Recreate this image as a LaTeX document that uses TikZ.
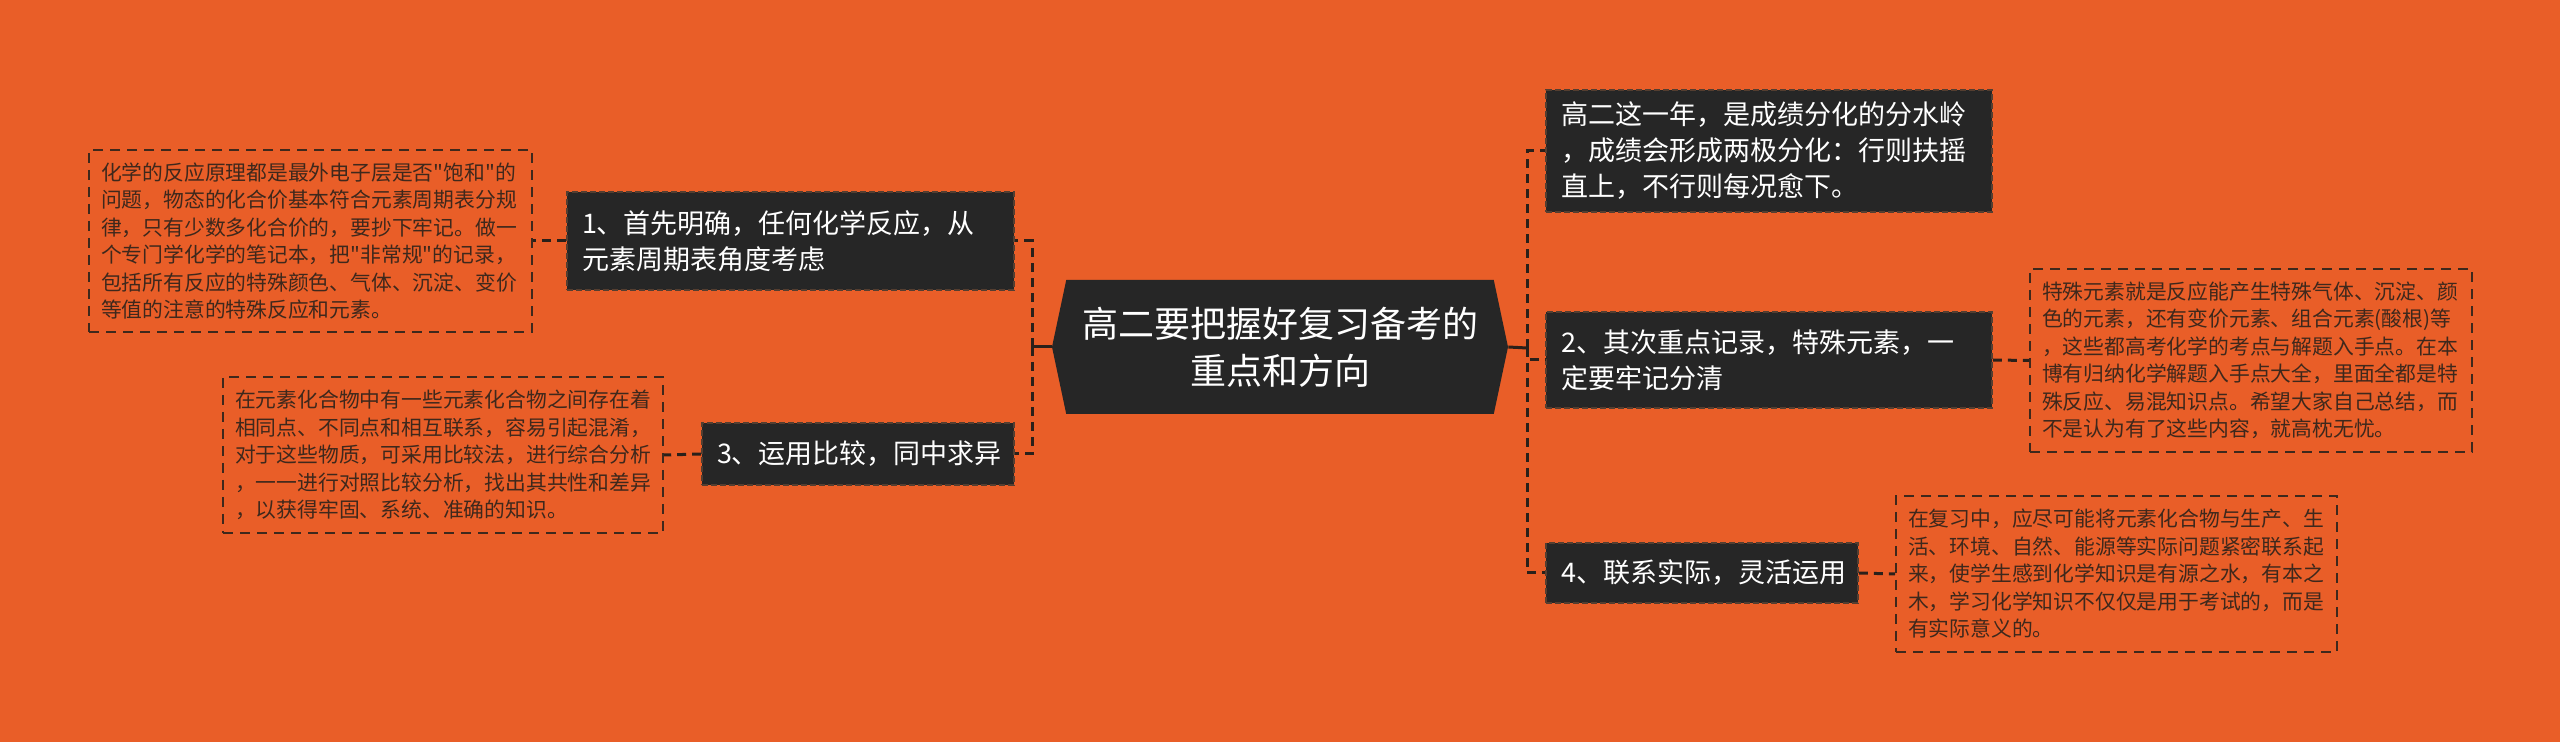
\documentclass[tikz,border=0pt]{standalone}
\usepackage{fontspec}
\setmainfont{Noto Sans CJK SC}[Ligatures=TeXOff]
\usetikzlibrary{shapes.symbols}
\definecolor{bgorange}{RGB}{233,94,40}
\definecolor{nodedark}{RGB}{38,38,38}
\definecolor{nodeedge}{RGB}{85,62,48}
\definecolor{notetext}{RGB}{62,40,28}
\definecolor{linkdark}{RGB}{42,32,26}

\begin{document}
\begin{tikzpicture}[x=0.5pt, y=-0.5pt]
    \tikzset{
      topic/.style={fill=nodedark, draw=nodeedge, line width=0.8pt, dash pattern=on 3pt off 1.5pt,
        text=white, inner xsep=7.5pt, align=left, font=\fontsize{13.5}{18}\selectfont},
      note/.style={draw=notetext, line width=1pt, dash pattern=on 5pt off 3.5pt,
        text=notetext, inner xsep=6pt, align=left, font=\fontsize{10.4}{13.75}\selectfont},
      link/.style={draw=linkdark, line width=1.5pt, dash pattern=on 4.5pt off 3pt},
      stem/.style={draw=linkdark, line width=1.5pt},
    }
    \useasboundingbox[fill=bgorange] (0,0) rectangle (2560,742);
    % ===== centre =====
    \node[signal, signal to=west and east, signal pointer angle=156, fill=nodedark, text=white,
      align=center, minimum width=228pt, minimum height=67pt,
      font=\fontsize{18}{23.5}\selectfont] (root) at (1280,347) {高二要把握好复习备考的\\重点和方向};
    \coordinate (ljoin) at (1032,347);
    \coordinate (rjoin) at (1527,348);
    % ===== left branches =====
    \node[topic, text width=208.5pt, minimum height=49pt] (first) at (790.5,241)
      {1、首先明确，任何化学反应，从\\元素周期表角度考虑};
    \node[topic, text width=141pt, minimum height=31pt] (third) at (858,454)
      {3、运用比较，同中求异};
    \node[note, text width=209.5pt, minimum height=91pt] (firstnote) at (310.5,241)
      {化学的反应原理都是最外电子层是否"饱和"的\\问题，物态的化合价基本符合元素周期表分规\\律，只有少数多化合价的，要抄下牢记。做一\\个专门学化学的笔记本，把"非常规"的记录，\\包括所有反应的特殊颜色、气体、沉淀、变价\\等值的注意的特殊反应和元素。};
    \node[note, text width=208pt, minimum height=78pt] (thirdnote) at (443,455)
      {在元素化合物中有一些元素化合物之间存在着\\相同点、不同点和相互联系，容易引起混淆，\\对于这些物质，可采用比较法，进行综合分析\\，一一进行对照比较分析，找出其共性和差异\\，以获得牢固、系统、准确的知识。};
    % ===== right branches =====
    \node[topic, text width=208pt, minimum height=61pt] (intro) at (1769,151)
      {高二这一年，是成绩分化的分水岭\\，成绩会形成两极分化：行则扶摇\\直上，不行则每况愈下。};
    \node[topic, text width=208pt, minimum height=48pt] (second) at (1769,360)
      {2、其次重点记录，特殊元素，一\\定要牢记分清};
    \node[topic, text width=141pt, minimum height=30pt] (fourth) at (1702,573)
      {4、联系实际，灵活运用};
    \node[note, text width=209pt, minimum height=91.5pt] (secondnote) at (2251,360.5)
      {特殊元素就是反应能产生特殊气体、沉淀、颜\\色的元素，还有变价元素、组合元素(酸根)等\\，这些都高考化学的考点与解题入手点。在本\\博有归纳化学解题入手点大全，里面全都是特\\殊反应、易混知识点。希望大家自己总结，而\\不是认为有了这些内容，就高枕无忧。};
    \node[note, text width=208.5pt, minimum height=78pt] (fourthnote) at (2116.5,574)
      {在复习中，应尽可能将元素化合物与生产、生\\活、环境、自然、能源等实际问题紧密联系起\\来，使学生感到化学知识是有源之水，有本之\\木，学习化学知识不仅仅是用于考试的，而是\\有实际意义的。};
    % ===== connectors =====
    \draw[stem] (root.west) -- (ljoin);
    \draw[link] (ljoin) |- (first.east);
    \draw[link] (ljoin) |- (third.east);
    \draw[stem] (root.east) -- (rjoin);
    \draw[link] (rjoin) |- (intro.west);
    \draw[link] (rjoin) |- (second.west);
    \draw[link] (rjoin) |- (fourth.west);
    \draw[link] (first.west) -- (firstnote.east);
    \draw[link] (third.west) -- (thirdnote.east);
    \draw[link] (second.east) -- (secondnote.west);
    \draw[link] (fourth.east) -- (fourthnote.west);
  \end{tikzpicture}
\end{document}
